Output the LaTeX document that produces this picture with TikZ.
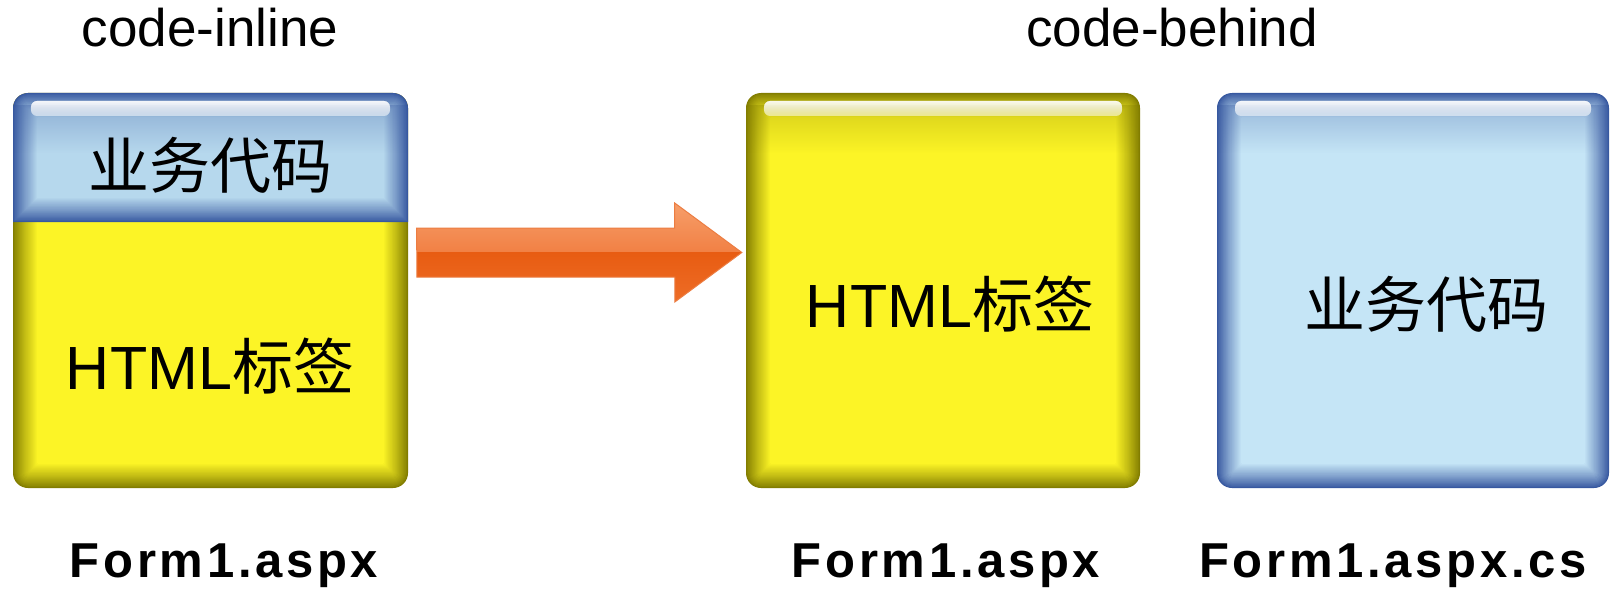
\documentclass[tikz,border=0pt]{standalone}
\usepackage{fontspec}
\setmainfont{Liberation Sans}
\newfontfamily\cjk{Noto Sans CJK SC}
\newfontfamily\lblfont[LetterSpace=7.5]{Liberation Sans}
\usetikzlibrary{calc,fadings}
\definecolor{edgeY}{RGB}{130,125,0}
\definecolor{inY}{RGB}{252,244,38}
\definecolor{edgeB}{RGB}{55,88,160}
\definecolor{inB}{RGB}{197,229,246}
\definecolor{inBt}{RGB}{182,216,237}
\definecolor{arrL1}{RGB}{247,160,108}
\definecolor{arrL2}{RGB}{241,128,68}
\definecolor{arrD1}{RGB}{232,92,18}
\definecolor{arrD2}{RGB}{238,110,40}
\definecolor{arrE}{RGB}{236,125,66}
% glass box: x1, y1 (top), x2, y2 (bottom), edge colour, inner colour, bottom rounded (1/0)
\newcommand\glass[7]{%
  \foreach \k in {0,...,22}{%
    \pgfmathsetmacro\d{\k*1.1}%
    \pgfmathtruncatemacro\pc{min(100,100*(\k/22)^0.85)}%
    \pgfmathsetmacro\r{max(15-\d,1)}%
    \pgfmathsetmacro\rb{#7*\r+(1-#7)*0.01}%
    \fill[#6!\pc!#5] (#1+\d,{(#2+#4)/2}) [rounded corners=\r pt] -- (#1+\d,#2+\d) -- (#3-\d,#2+\d) -- (#3-\d,{(#2+#4)/2}) [rounded corners=\rb pt] -- (#3-\d,#4-\d) -- (#1+\d,#4-\d) -- cycle;
  }%
  \begin{scope}
    \clip[rounded corners=15pt] (#1,#2) rectangle (#3,#2+80);
    \fill[#5, fill opacity=.3, path fading=south] (#1,#2+12) rectangle (#3,#2+60);
  \end{scope}
  \fill[white, fill opacity=.85, rounded corners=6pt, path fading=south] (#1+18,#2+8) rectangle (#3-18,#2+23);
  \fill[white, fill opacity=.5, rounded corners=6pt] (#1+18,#2+8) rectangle (#3-18,#2+23);
}
\tikzset{
  title/.style={anchor=base, inner sep=0pt, font=\fontsize{53}{60}\selectfont},
  lbl/.style={anchor=base, inner sep=0pt, font=\lblfont\bfseries\fontsize{49}{56}\selectfont},
  boxtxt/.style={anchor=base, inner sep=0pt, font=\fontsize{61}{70}\selectfont},
  boxarea/.style={inner sep=0pt, minimum width=394pt, minimum height=395pt},
}
\begin{document}
\begin{tikzpicture}[x=1pt, y=-1pt]
\useasboundingbox[fill=white] (0,0) rectangle (1612,591);
% boxes (areas)
\node[boxarea] (inline) at (210.5,290.5) {};
\node[boxarea] (aspx) at (943,290.5) {};
\node[boxarea] (cs) at (1413,290.5) {};
% glassy fills
\glass{13}{93}{408}{488}{edgeY}{inY}{1}
\glass{13}{93}{408}{222}{edgeB}{inBt}{0}
\glass{746}{93}{1140}{488}{edgeY}{inY}{1}
\glass{1217}{93}{1609}{488}{edgeB}{inB}{1}
% titles
\node[title] (t1) at (210,47) {code-inline};
\node[title] (t2) at (1172,47) {code-behind};
% box texts
\node[boxtxt] (biz1) at (210,189) {\cjk 业务代码};
\node[boxtxt] (html1) at (210,389) {HTML{\cjk 标签}};
\node[boxtxt] (html2) at (950,327) {HTML{\cjk 标签}};
\node[boxtxt] (biz2) at (1426,327) {\cjk 业务代码};
% file labels
\node[lbl] (f1) at (224,577) {Form1.aspx};
\node[lbl] (f2) at (946,577) {Form1.aspx};
\node[lbl] (f3) at (1393,577) {Form1.aspx.cs};
% arrow
\coordinate (aS) at ($(inline.east)+(9,-38)$);
\coordinate (aT) at ($(aspx.west)+(-4,-38)$);
\begin{scope}
  \clip (aS) ++(0,-24.5) -- ++(258,0) -- ++(0,-25) -- (aT) -- ++(-67,49.5) -- ++(0,-25) -- ++(-258,0) -- cycle;
  \shade[top color=arrL1, bottom color=arrL2] (400,200) rectangle (750,252.5);
  \shade[top color=arrD1, bottom color=arrD2] (400,252.5) rectangle (750,305);
\end{scope}
\draw[arrE, line width=1pt, line join=miter] (aS) ++(0,-24.5) -- ++(258,0) -- ++(0,-25) -- (aT) -- ++(-67,49.5) -- ++(0,-25) -- ++(-258,0) -- cycle;
\end{tikzpicture}
\end{document}
